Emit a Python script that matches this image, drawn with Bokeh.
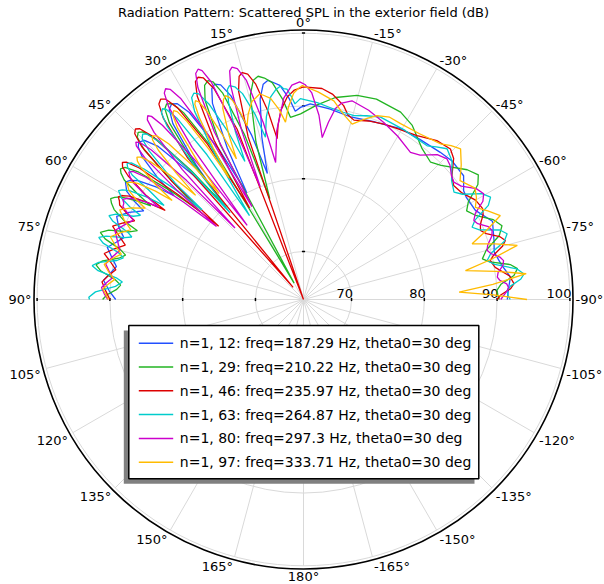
import numpy as np
from bokeh.plotting import figure
from bokeh.embed import file_html
from bokeh.resources import INLINE
from bokeh.core.properties import value

TITLE = "Radiation Pattern: Scattered SPL in the exterior field (dB)"
RADIAL_TICKS = [70, 80, 90, 100]
R_CENTER_DB = 63.4
R_TOP_DB = 100.0

LEGEND_LABELS = [
    "n=1, 12: freq=187.29 Hz, theta0=30 deg",
    "n=1, 29: freq=210.22 Hz, theta0=30 deg",
    "n=1, 46: freq=235.97 Hz, theta0=30 deg",
    "n=1, 63: freq=264.87 Hz, theta0=30 deg",
    "n=1, 80: freq=297.3 Hz, theta0=30 deg",
    "n=1, 97: freq=333.71 Hz, theta0=30 deg",
]
COLORS = ["#2250ff", "#22b422", "#dd0000", "#00cccc", "#cc00cc", "#ffbb00"]

# angle in degrees (0 = top, positive = counter-clockwise), value in dB
blue_deg = [-90, -87, -83.8, -80, -76, -72.8, -67.5, -62.6, -58, -55.8, -52.3, -47, -42.9, -36, -29.6, -22, -14.5, -8, -2, 0.9,
            2.5, 4.1, 6.3, 7.9, 9.2, 10.6, 12.2, 14.4, 16.0,
            17.5, 19.6, 21.1, 22.4, 23.5, 24.9, 26.7, 28.0,
            29.4, 31.4, 32.8, 34.0, 35.2, 36.6, 38.6, 40.0,
            41.5, 43.5, 45.0, 46.3, 47.3, 48.5, 50.1, 51.3,
            52.6, 54.3, 55.5, 56.6, 57.5, 58.5, 59.9, 61.0,
            63.5, 66.0, 68.5, 71.0, 73.0, 75.1, 77.5, 80.0, 82.3, 84.5, 87.5, 90.0]
blue_db = [91.4, 91.6, 92.0, 91.0, 90.4, 90.8, 91.5, 90.0, 89.8, 90.0, 91.2, 91.3, 91.0, 90.6, 90.4, 89.7, 89.3, 89.8, 90.3, 89.8,
           89.3, 91.1, 93.0, 93.5, 93.9, 93.5, 91.6, 86.4, 81.4,
           87.0, 93.1, 95.0, 95.4, 95.0, 93.1, 86.7, 80.0,
           87.1, 93.5, 95.4, 95.8, 95.4, 93.5, 87.1, 80.5,
           86.2, 92.4, 94.3, 94.7, 94.3, 93.0, 89.6, 86.2,
           88.8, 91.4, 92.3, 92.7, 92.3, 91.9, 90.2, 88.5,
           90.2, 91.5, 90.7, 89.5, 90.3, 91.3, 90.4, 89.5, 90.2, 91.0, 90.1, 89.2]

green_deg = [-90, -88.6, -87.3, -85.6, -83.5, -81.8, -80.4, -78.6, -77.2, -74.9, -71.9, -69.6, -67.2, -63.9, -61.5, -59.4, -56.6, -54.5, -51.6, -45.7, -42.8, -38, -32, -27.4, -20, -14.7, -9, -4, 0.9,
             4.1, 5.9, 8.2, 10.0, 11.5, 12.9, 14.6, 16.8, 18.5,
             19.7, 21.4, 22.6, 23.6, 24.8, 26.3, 28.3, 29.8,
             31.0, 32.7, 33.8, 35.0, 36.0, 37.2, 38.8, 40.0,
             41.1, 42.6, 43.8, 44.7, 45.7, 46.8, 48.1, 49.5,
             50.7, 52.3, 53.5, 54.5, 55.3, 56.3, 57.5, 58.5,
             59.4, 60.7, 61.6, 62.4, 63.4, 64.6, 66.4, 67.5,
             68.8, 70.4, 71.7, 73.0, 74.7, 76.0, 77.4, 79.1, 80.5, 82.0, 84.0, 85.5, 86.9, 88.6, 90.0]
green_db = [90.3, 90.1, 90.0, 90.6, 92.5, 93.1, 92.2, 89.5, 88.6, 89.4, 91.7, 92.5, 91.7, 89.7, 88.9, 89.7, 92.1, 92.9, 92.1, 89.8, 89.1, 89.8, 91.6, 92.4, 92.7, 92.4, 91.5, 90.2, 88.9,
            88.5, 91.0, 93.5, 94.3, 94.7, 94.3, 92.4, 86.0, 78.0,
            87.5, 93.9, 95.8, 96.2, 95.8, 93.9, 87.5, 66.0,
            87.5, 93.9, 95.8, 96.2, 95.8, 93.9, 87.5, 80.0,
            87.0, 93.4, 95.3, 95.7, 95.3, 93.4, 87.5, 82.0,
            86.9, 92.0, 93.9, 94.3, 93.9, 93.0, 90.5, 88.0,
            90.1, 92.2, 92.9, 93.3, 92.9, 92.2, 90.2, 88.1,
            89.1, 91.8, 92.8, 91.9, 89.5, 88.6, 89.4, 91.5, 92.3, 91.5, 89.4, 88.6, 89.1, 90.4, 91.0]

red_deg = [-90, -88.7, -87, -85.7, -83.5, -80.5, -78.2, -76.9, -75, -73.7, -72.2, -70.2, -68.7, -67, -64.7, -63, -60, -55.9, -52.8, -50.3, -46.8, -44.3, -40, -34.7, -29, -24.6, -20, -15.7, -13.5, -11.7, -8, -5, 0, 2.5, 4.6, 6.8, 8.3,
           9.3, 10.7, 12.5, 13.9, 15.1, 16.1, 17.3, 18.8, 20.0,
           21.3, 23.0, 24.3, 25.4, 26.4, 27.6, 29.3, 30.5,
           31.7, 33.3, 34.5, 35.5, 36.5, 37.7, 39.3, 40.5,
           41.5, 42.8, 43.8, 44.6, 45.5, 46.6, 48.1, 49.2,
           50.1, 51.3, 52.2, 52.9, 53.8, 54.8, 56.5, 57.2,
           58.1, 59.3, 60.2, 61.0, 61.8, 62.8, 64.0, 65.0,
           67.0, 69.0, 71.0, 73.0, 75.0, 77.0, 79.0, 81.0, 83.0, 85.0, 87.5, 90.0]
red_db = [90.0, 90.5, 91.9, 92.4, 91.9, 90.1, 89.6, 90.2, 91.7, 92.3, 91.7, 90.1, 89.5, 89.8, 90.7, 91.0, 90.7, 89.6, 89.3, 89.9, 91.7, 92.3, 91.9, 90.8, 90.2, 89.9, 89.5, 89.0, 89.5, 90.6, 91.9, 92.5, 92.6, 92.2, 91.3, 89.6, 87.6,
          85.8, 89.8, 93.7, 95.3, 95.7, 95.3, 93.4, 87.0, 63.4,
          88.5, 94.9, 96.8, 97.2, 96.8, 94.9, 88.5, 78.0,
          88.5, 94.9, 96.8, 97.2, 96.8, 94.9, 88.5, 65.6,
          87.6, 94.0, 95.9, 96.3, 95.9, 94.0, 87.6, 78.8,
          85.9, 92.3, 94.2, 94.6, 94.2, 92.9, 89.4, 86.0,
          88.6, 91.2, 92.1, 92.5, 92.1, 91.8, 90.4, 89.0,
          90.3, 91.5, 90.2, 89.0, 90.3, 91.5, 90.4, 89.5, 90.4, 91.2, 90.6, 90.0]

cyan_deg = [-90, -88.8, -87.5, -86.3, -84.6, -83.4, -81.8, -79.6, -78, -76.2, -73.9, -72.1, -70.5, -68.4, -66.8, -65.1, -63, -61.3, -59.3, -56.5, -54.5, -51.2, -47, -43.6, -41, -38.8, -31, -22.9, -19, -15.3, -12, -9, -4, 0.9,
            2.5, 3.4, 4.5, 5.4, 6.1, 7.5, 9.2, 11.5, 13.2,
            14.6, 16.5, 17.9, 19.1, 19.9, 20.8, 22.1, 23.0,
            24.2, 25.8, 27.0, 28.0, 29.0, 30.1, 31.4, 32.8,
            33.7, 34.9, 35.8, 36.5, 37.3, 38.2, 39.2, 40.3,
            41.2, 42.5, 43.4, 44.2, 45.1, 46.1, 47.8, 48.5,
            49.4, 50.7, 51.6, 52.4, 53.1, 54.0, 54.7, 56.0,
            56.8, 58.0, 58.8, 59.5, 60.1, 60.9, 62.0, 62.7,
            63.9, 65.5, 66.7, 67.7, 69.0, 70.0, 70.9, 72.2, 73.1, 74.3, 75.8, 77.0, 78.2, 79.7, 80.9,
            82.0, 83.4, 84.5, 86.0, 87.9, 89.4, 90.0]
cyan_db = [91.8, 91.5, 91.4, 91.9, 93.4, 93.9, 93.0, 90.1, 89.2, 89.9, 92.1, 92.8, 92.0, 89.4, 88.6, 89.4, 91.9, 92.7, 91.9, 89.6, 88.8, 89.5, 91.3, 92.0, 91.2, 90.5, 90.5, 90.6, 90.1, 89.6, 89.7, 89.9, 90.5, 91.0,
           90.3, 91.3, 92.4, 92.5, 92.9, 92.5, 91.6, 89.0, 86.3,
           89.6, 92.9, 94.1, 94.5, 94.1, 92.4, 88.2, 84.0,
           88.6, 93.2, 95.1, 95.5, 95.1, 93.2, 86.8, 77.1,
           87.3, 93.7, 95.6, 96.0, 95.6, 93.7, 87.3, 79.0,
           86.4, 92.8, 94.7, 95.1, 94.7, 92.8, 87.2, 82.0,
           86.8, 91.7, 93.6, 94.0, 93.6, 92.5, 89.5, 86.5,
           89.1, 91.6, 92.5, 92.9, 92.5, 92.0, 90.3, 88.6,
           89.4, 91.7, 92.5, 91.7, 89.3, 88.5, 89.4, 91.9, 92.8, 92.0, 89.6, 88.8, 89.6, 92.0, 92.8,
           91.9, 89.3, 88.4, 89.3, 92.0, 92.9, 92.8]

purple_deg = [-90, -88.6, -87.6, -86.6, -85.6, -84.4, -83.4, -82.1, -80.3, -79, -77.8, -76.2, -75, -73.5, -71.4, -69.9, -68.5, -66.5, -65.1, -63.4, -61.3, -59.6, -57.3, -54.3, -52, -50.1, -47.5, -45.6, -42.7, -38.9, -36, -30, -24.4, -19, -13.7, -11, -9.5, -8.0, -6.6,
              -4.8, -2.3, -0.5, 1.0, 3.1, 5.6, 9.0, 11.5,
              12.8, 14.6, 16.0, 17.1, 17.9, 18.8, 20.1, 21.0,
              21.9, 23.0, 23.9, 24.6, 25.5, 26.5, 28.0, 29.0,
              30.0, 31.4, 32.4, 33.2, 34.0, 35.0, 36.2, 37.2,
              37.9, 39.0, 39.7, 40.3, 41.0, 41.8, 43.0, 43.8,
              44.5, 45.5, 46.2, 46.8, 47.4, 48.2, 49.2, 50.0,
              50.9, 52.2, 53.1, 53.9, 54.6, 55.5, 56.6, 57.5,
              58.3, 59.5, 60.3, 61.0, 61.8, 62.8, 64.0, 65.0,
              67.5, 69.9, 72.5, 75.0, 77.4, 79.8, 81.7, 83.5, 85.0, 86.6, 88.3, 90.0]
purple_db = [90.5, 91.0, 91.4, 91.6, 91.4, 90.5, 90.2, 90.4, 91.2, 91.4, 91.0, 89.9, 89.5, 89.8, 90.7, 91.0, 90.7, 89.5, 89.2, 89.8, 91.5, 92.1, 91.6, 90.1, 89.6, 89.9, 90.7, 91.0, 90.5, 88.9, 88.4, 89.3, 90.1, 90.9, 91.5, 90.9, 90.0, 88.0, 85.8,
             88.8, 91.8, 92.9, 93.3, 92.9, 91.2, 86.9, 82.6,
             88.3, 94.5, 96.4, 96.8, 96.4, 94.5, 88.1, 80.0,
             89.5, 95.9, 97.8, 98.2, 97.8, 95.9, 89.5, 78.0,
             89.3, 95.7, 97.6, 98.0, 97.6, 95.7, 89.3, 76.2,
             87.8, 94.2, 96.1, 96.5, 96.1, 94.2, 87.8, 77.0,
             86.3, 92.7, 94.6, 95.0, 94.6, 92.7, 86.3, 79.0,
             84.6, 90.8, 92.7, 93.1, 92.7, 91.9, 89.4, 87.0,
             88.9, 90.8, 91.4, 91.8, 91.4, 91.3, 90.2, 89.2,
             90.1, 91.0, 90.2, 89.5, 90.3, 91.0, 90.4, 89.8, 90.5, 91.2, 90.8, 90.3]

yellow_deg = [-90, -88.6, -87.3, -85.4, -83.4, -81.7, -79.9, -77.9, -75.8, -73.8, -71.7, -69.3, -66.9, -64.3, -61.8, -59.4, -57, -54.8, -52.8, -49.5, -46.2, -43.8, -41.4, -35, -28.9, -25.3, -21.8, -18.5, -15.5, -12, -8.7, -4, 0.3,
              1.4, 2.7, 4.5, 5.8,
              7.3, 9.3, 10.8, 12.0, 13.2, 14.6, 16.6, 18.0,
              18.7, 19.6, 20.2, 20.9, 21.8, 22.9, 24.4, 25.5,
              26.2, 27.2, 27.9, 28.5, 29.1, 29.8, 30.8, 31.5,
              32.2, 33.2, 33.9, 34.5, 35.3, 36.3, 37.5, 38.5,
              39.5, 40.9, 41.9, 42.7, 43.4, 44.2, 45.2, 46.0,
              46.8, 48.0, 48.8, 49.5, 50.2, 51.0, 52.2, 53.0,
              53.8, 55.0, 55.8, 56.5, 57.2, 58.0, 59.2, 60.0,
              62.0, 64.0, 66.0, 68.0, 70.0, 72.0, 74.0, 76.0, 78.0, 80.0, 82.0, 84.0, 85.5, 87.0, 90.0]
yellow_db = [94.1, 89.5, 84.8, 89.5, 94.2, 90.2, 86.0, 89.8, 93.7, 90.8, 87.8, 90.3, 92.8, 91.5, 90.2, 91.0, 91.5, 90.9, 90.4, 91.9, 93.3, 92.7, 91.9, 91.2, 91.0, 91.1, 90.6, 89.5, 88.4, 89.5, 91.0, 92.0, 92.8,
             92.4, 91.8, 89.9, 87.9,
             89.7, 91.4, 91.9, 92.3, 91.9, 91.5, 90.0, 88.5,
             90.5, 92.4, 93.0, 93.4, 93.0, 91.9, 88.2, 84.8,
             88.7, 92.6, 94.1, 94.5, 94.1, 92.2, 87.6, 83.0,
             87.8, 92.6, 94.5, 94.9, 94.5, 92.6, 87.2, 82.0,
             86.8, 91.7, 93.6, 94.0, 93.6, 92.0, 88.0, 84.0,
             87.8, 91.6, 93.1, 93.5, 93.1, 92.0, 89.0, 86.0,
             88.6, 91.2, 92.1, 92.5, 92.1, 91.7, 90.1, 88.5,
             90.2, 91.5, 90.4, 89.0, 90.2, 91.3, 90.3, 89.2, 90.3, 91.2, 90.4, 89.5, 90.3, 91.0, 90.2]

SERIES = [(blue_deg, blue_db), (green_deg, green_db), (red_deg, red_db),
          (cyan_deg, cyan_db), (purple_deg, purple_db), (yellow_deg, yellow_db)]

# ---- geometry (1 data unit = 1 screen pixel) ----
R100 = 266.4
SCALE = R100 / (R_TOP_DB - R_CENTER_DB)
R_OUT = 269.5


def to_xy(deg, db):
    deg = np.asarray(deg, float)
    r = np.clip((np.asarray(db, float) - R_CENTER_DB) * SCALE, 0, None)
    t = np.radians(deg)
    return -r * np.sin(t), r * np.cos(t)


W, H = 604, 584
p = figure(width=W, height=H, x_range=(-303, 301), y_range=(-285, 299),
           output_backend="svg", toolbar_location=None, min_border=0,
           x_axis_location=None, y_axis_location=None, outline_line_color=None,
           background_fill_color="white", border_fill_color="white")
p.grid.visible = False

GRID = "#d9d9d9"
# spokes every 15 degrees
sp = np.radians(np.arange(0, 360, 15))
p.segment(x0=np.zeros(len(sp)), y0=np.zeros(len(sp)), x1=-R100 * np.sin(sp), y1=R100 * np.cos(sp),
          line_color=GRID, line_width=1)
# circles
radii = [(v - R_CENTER_DB) * SCALE for v in RADIAL_TICKS]
p.circle(x=[0] * len(radii), y=[0] * len(radii), radius=radii, fill_color=None, line_color=GRID, line_width=1)
p.circle(x=[0], y=[0], radius=[R_OUT], fill_color=None, line_color="black", line_width=1.6)

# tick marks on the 0, 90 and -90 degree axes
tx0, ty0, tx1, ty1 = [], [], [], []
for r in radii:
    tx0 += [r, -r, -1.6]; tx1 += [r, -r, 1.6]
    ty0 += [-1.6, -1.6, r]; ty1 += [1.6, 1.6, r]
p.segment(x0=tx0, y0=ty0, x1=tx1, y1=ty1, line_color="black", line_width=1.5)

# radial tick labels
p.text(x=[r + 1.5 for r in radii], y=[1.5] * len(radii), text=[str(v) for v in RADIAL_TICKS],
       text_align="right", text_baseline="bottom", text_font=value("DejaVu Sans"),
       text_font_size="13px", text_color="black")

# angular labels
CW = {"-": 4.7, "°": 6.5}
lx, ly, lt = [], [], []
for a in range(0, 360, 15):
    lab = f"{a}°" if a <= 180 else f"-{360 - a}°"
    w = sum(CW.get(c, 8.27) for c in lab)
    t = np.radians(a)
    dx, dy = -np.sin(t), np.cos(t)
    sx = 0.0 if abs(dx) < 0.05 else np.sign(dx)
    if abs(dy) < 0.05:
        oy = 0.0
    elif abs(dx) < 0.05:
        oy = 5.0 * np.sign(dy)
    else:
        oy = 3.0 if dy > 0 else -4.5
    lx.append(dx * 272 + sx * w / 2)
    ly.append(dy * 272 + oy)
    lt.append(lab)
p.text(x=lx, y=ly, text=lt, text_align="center", text_baseline="middle",
       text_font=value("DejaVu Sans"), text_font_size="13px", text_color="black")

# curves
for (deg, db), col in zip(SERIES, COLORS):
    x, y = to_xy(deg, db)
    p.line(x, y, line_color=col, line_width=1.3)

# title
p.text(x=[0], y=[287], text=[TITLE], text_align="center", text_baseline="middle",
       text_font=value("DejaVu Sans"), text_font_size="13px", text_color="black")

# legend
p.quad(left=[-179.7], right=[171], top=[-31], bottom=[-184.3], fill_color="#808080", line_color=None)
p.quad(left=[-174.7], right=[175.3], top=[-26], bottom=[-179.3], fill_color="white",
       line_color="black", line_width=1.5)
rows = [-43.7 - 23.8 * i for i in range(len(LEGEND_LABELS))]
p.segment(x0=[-164.7] * 6, y0=rows, x1=[-130.3] * 6, y1=rows, line_color=COLORS, line_width=1.5)
p.text(x=[-123.7] * 6, y=rows, text=LEGEND_LABELS, text_align="left", text_baseline="middle",
       text_font=value("DejaVu Sans"), text_font_size="14px", text_color="black")

open("out.html", "w").write(file_html(p, INLINE))
